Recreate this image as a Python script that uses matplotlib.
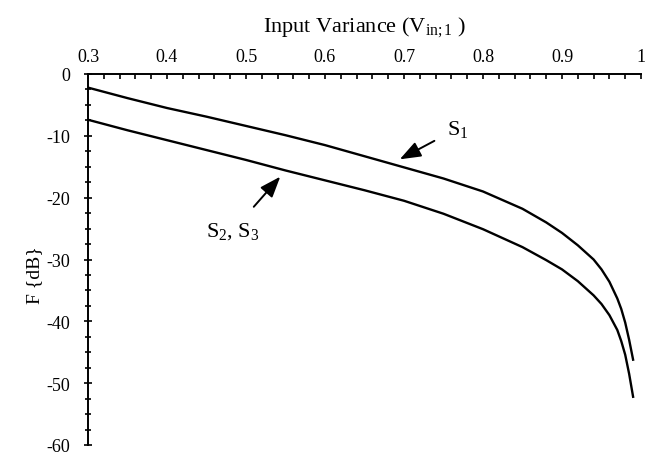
import matplotlib
matplotlib.use("Agg")
import matplotlib.pyplot as plt
from matplotlib.ticker import MultipleLocator

# Input variance values and the filter figure F (dB) for each structure
variance = [0.30, 0.35, 0.40, 0.45, 0.50, 0.55, 0.60, 0.65, 0.70, 0.75, 0.80,
            0.85, 0.88, 0.90, 0.92, 0.94, 0.95, 0.96, 0.97, 0.975, 0.98, 0.985, 0.99]
f_s1 = [-2.2, -3.9, -5.5, -6.9, -8.4, -9.9, -11.5, -13.3, -15.1, -16.9, -19.0,
        -21.8, -24.0, -25.7, -27.7, -30.0, -31.6, -33.6, -36.3, -38.0, -40.2, -43.0, -46.2]
f_s23 = [-7.4, -9.1, -10.7, -12.3, -13.9, -15.6, -17.2, -18.8, -20.5, -22.6, -25.1,
         -28.0, -30.1, -31.6, -33.5, -35.8, -37.2, -39.0, -41.4, -43.2, -45.4, -48.5, -52.2]

x_ticks = [0.3, 0.4, 0.5, 0.6, 0.7, 0.8, 0.9, 1.0]
x_tick_labels = ["0.3", "0.4", "0.5", "0.6", "0.7", "0.8", "0.9", "1"]
y_ticks = [0, -10, -20, -30, -40, -50, -60]
y_tick_labels = ["0", "-10", "-20", "-30", "-40", "-50", "-60"]

plt.rcParams["font.family"] = ["Liberation Serif", "DejaVu Serif"]
plt.rcParams["mathtext.fontset"] = "custom"
plt.rcParams["mathtext.rm"] = "Liberation Serif"
plt.rcParams["mathtext.it"] = "Liberation Serif"

W, H = 647, 460
fig = plt.figure(figsize=(W / 100, H / 100), dpi=100)
# axes box in pixels: left 88, right 641, top 75, bottom 446
ax = fig.add_axes([88 / W, 1 - 446 / H, (641 - 88) / W, (446 - 75) / H])

ax.plot(variance, f_s1, color="black", lw=1.7)
ax.plot(variance, f_s23, color="black", lw=1.7)

ax.set_xlim(0.3, 1.0)
ax.set_ylim(-60, 0)

for side in ("right", "bottom"):
    ax.spines[side].set_visible(False)
for side in ("left", "top"):
    ax.spines[side].set_linewidth(1.4)

ax.xaxis.tick_top()
ax.set_xticks(x_ticks)
ax.set_xticklabels(x_tick_labels)
ax.set_yticks(y_ticks)
ax.set_yticklabels(y_tick_labels)
ax.xaxis.set_minor_locator(MultipleLocator(0.02))
ax.yaxis.set_minor_locator(MultipleLocator(2.5))

ax.tick_params(axis="x", which="both", direction="in", length=3.5, width=1.2,
               labelsize=13, pad=6.5)
ax.tick_params(axis="y", which="major", direction="inout", length=6, width=1.2,
               labelsize=13, pad=10)
ax.tick_params(axis="y", which="minor", direction="inout", length=4, width=1.2)

ax.set_xlabel(r"Input Variance (V$_{\mathrm{in;1}}$ )", fontsize=16, va="center")
ax.xaxis.set_label_coords(0.5, 1 + (75 - 27) / 371)
ax.set_ylabel("F {dB}", fontsize=14, va="center")
ax.yaxis.set_label_coords((35 - 88) / 553, 0.46)

ax.annotate(r"S$_1$", xy=(0.6946, -13.8), xytext=(0.768, -8.8),
            fontsize=16, ha="center", va="center",
            arrowprops=dict(arrowstyle="-|>,head_length=0.8,head_width=0.3",
                            color="black", lw=1.4, shrinkA=8, shrinkB=0))
ax.annotate(r"S$_2$, S$_3$", xy=(0.5434, -16.6), xytext=(0.4835, -25.3),
            fontsize=16, ha="center", va="center",
            arrowprops=dict(arrowstyle="-|>,head_length=0.8,head_width=0.3",
                            color="black", lw=1.4, shrinkA=10, shrinkB=0))

fig.savefig("out.png", dpi=100)
